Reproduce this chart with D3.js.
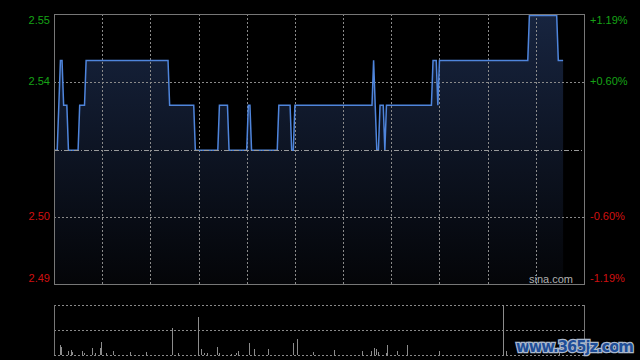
<!DOCTYPE html>
<html>
<head>
<meta charset="utf-8">
<script src="https://cdn.jsdelivr.net/npm/d3@7"></script>
<style>
  body { margin: 0; background: #000; }
  svg { display: block; }
</style>
</head>
<body>
<script>
// intraday price, [minute from open, price]
var priceMinutes = [0, 2, 4, 5, 6, 8, 9, 15, 16, 19, 20, 71, 72, 87, 88, 102, 103, 108, 109, 120, 121, 122, 123, 139, 140, 147, 148, 149, 150, 198, 199, 201, 202, 203, 205, 206, 207, 235, 236, 238, 239, 240, 295, 296, 313, 314, 317];
var pricesVal = [2.52, 2.52, 2.54, 2.54, 2.53, 2.53, 2.52, 2.52, 2.53, 2.53, 2.54, 2.54, 2.53, 2.53, 2.52, 2.52, 2.53, 2.53, 2.52, 2.52, 2.53, 2.53, 2.52, 2.52, 2.53, 2.53, 2.52, 2.52, 2.53, 2.53, 2.54, 2.52, 2.52, 2.53, 2.53, 2.52, 2.53, 2.53, 2.54, 2.54, 2.53, 2.54, 2.54, 2.55, 2.55, 2.54, 2.54];

// volume bars (thousand shares)
var volMinutes = [3, 4, 8, 10, 11, 17, 18, 23, 25, 28, 29, 32, 36, 47, 57, 73, 77, 89, 91, 93, 95, 101, 102, 110, 113, 114, 121, 124, 133, 148, 151, 161, 174, 191, 197, 199, 200, 201, 206, 207, 213, 219, 239, 279, 281, 314];
var volValues = [100, 80, 40, 50, 30, 40, 20, 70, 20, 70, 130, 20, 40, 30, 30, 270, 20, 380, 60, 20, 20, 80, 20, 10, 20, 40, 120, 60, 60, 120, 160, 30, 50, 40, 40, 70, 60, 30, 20, 100, 40, 100, 40, 500, 40, 30];

var prevClose = 2.52;
var leftLabels = ["2.55", "2.54", "", "2.50", "2.49"];
var rightLabels = ["+1.19%", "+0.60%", "", "-0.60%", "-1.19%"];
var gridMinutes = [30, 60, 90, 120, 150, 180, 210, 240, 270, 300];
var totalMinutes = 330;
var maxVol = 500;

var W = 640, H = 360;
// note: "top" is a reserved window prop, so use pLeft/pTop...
var pLeft = 54, pRight = 584, pTop = 14, pBottom = 284;
var vTop = 305, vBottom = 355;

var svg = d3.select("body").append("svg")
    .attr("width", W)
    .attr("height", H)
    .style("background", "#000");

var x = d3.scaleLinear().domain([0, totalMinutes]).range([pLeft, pRight]);
var y = d3.scaleLinear()
    .domain([prevClose * (1 - 0.0119), prevClose * (1 + 0.0119)])
    .range([pBottom + 1, pTop + 1.5]);
var yv = d3.scaleLinear().domain([0, maxVol]).range([vBottom, vTop]);

var data = priceMinutes.map(function(m, i) { return [m, pricesVal[i]]; });
var vol = volMinutes.map(function(m, i) { return [m, volValues[i]]; });

var defs = svg.append("defs");
var grad = defs.append("linearGradient")
    .attr("id", "fillGrad")
    .attr("x1", 0).attr("y1", 0).attr("x2", 0).attr("y2", 1);
grad.append("stop").attr("offset", "0%").attr("stop-color", "#17243f");
grad.append("stop").attr("offset", "100%").attr("stop-color", "#040508");

// area under price
var area = d3.area()
    .x(function(d) { return x(d[0]); })
    .y0(pBottom)
    .y1(function(d) { return y(d[1]); });

svg.append("path")
    .datum(data)
    .attr("d", area)
    .attr("fill", "url(#fillGrad)");

// grid
var quarter = (pBottom - pTop) / 4;
[1, 3].forEach(function(k) {
  svg.append("line")
    .attr("x1", pLeft).attr("x2", pRight)
    .attr("y1", Math.round(pTop + quarter * k) + 0.5).attr("y2", Math.round(pTop + quarter * k) + 0.5)
    .attr("stroke", "#8a8a8a")
    .attr("stroke-width", 1)
    .attr("stroke-dasharray", "2,2");
});

svg.selectAll("line.vgrid")
  .data(gridMinutes)
  .enter()
  .append("line")
  .attr("class", "vgrid")
  .attr("x1", function(d) { return Math.round(x(d)) + 0.5; })
  .attr("x2", function(d) { return Math.round(x(d)) + 0.5; })
  .attr("y1", pTop).attr("y2", pBottom)
  .attr("stroke", "#8a8a8a")
  .attr("stroke-dasharray", "2,2");

// price line
var line = d3.line()
    .x(function(d) { return x(d[0]); })
    .y(function(d) { return y(d[1]); });

svg.append("path")
    .datum(data)
    .attr("d", line)
    .attr("fill", "none")
    .attr("stroke", "#4f85dc")
    .attr("stroke-width", 1.5);

// previous close line (drawn over the price line)
svg.append("line")
  .attr("x1", pLeft).attr("x2", pRight)
  .attr("y1", Math.round(y(prevClose)) + 0.5).attr("y2", Math.round(y(prevClose)) + 0.5)
  .attr("stroke", "#9a9a9a")
  .attr("stroke-dasharray", "5,2,1,2");

// frame
svg.append("rect")
  .attr("x", pLeft + 0.5).attr("y", pTop + 0.5)
  .attr("width", pRight - pLeft).attr("height", pBottom - pTop)
  .attr("fill", "none")
  .attr("stroke", "#777");

// axis labels
leftLabels.forEach(function(t, i) {
  if (t === "") return;
  var yy = pTop + quarter * i;
  if (i === 0) yy += 6;
  if (i === 4) yy -= 6;
  svg.append("text")
    .attr("x", 50)
    .attr("y", yy)
    .attr("dy", "0.35em")
    .attr("text-anchor", "end")
    .attr("font-family", "Liberation Sans, Arial, sans-serif")
    .attr("font-size", "11px")
    .attr("fill", i < 2 ? "#16a316" : "#d01010")
    .text(t);
});

rightLabels.forEach(function(t, i) {
  if (t === "") return;
  var yy = pTop + quarter * i;
  if (i === 0) yy += 6;
  if (i === 4) yy -= 6;
  svg.append("text")
    .attr("x", 590)
    .attr("y", yy)
    .attr("dy", "0.35em")
    .attr("font-family", "Liberation Sans, Arial, sans-serif")
    .attr("font-size", "11px")
    .attr("fill", i < 2 ? "#16a316" : "#d01010")
    .text(t);
});

svg.append("text")
  .attr("x", 573)
  .attr("y", 283)
  .attr("text-anchor", "end")
  .attr("font-family", "Liberation Sans, Arial, sans-serif")
  .attr("font-size", "11px")
  .attr("fill", "#b0b0b0")
  .text("sina.com");

// volume panel
[vTop, (vTop + vBottom) / 2, vBottom].forEach(function(yy) {
  svg.append("line")
    .attr("x1", pLeft).attr("x2", pRight)
    .attr("y1", Math.round(yy) + 0.5).attr("y2", Math.round(yy) + 0.5)
    .attr("stroke", "#8a8a8a")
    .attr("stroke-dasharray", "2,2");
});
svg.append("line")
  .attr("x1", pLeft + 0.5).attr("x2", pLeft + 0.5)
  .attr("y1", vTop).attr("y2", vBottom)
  .attr("stroke", "#777");
svg.append("line")
  .attr("x1", pRight + 0.5).attr("x2", pRight + 0.5)
  .attr("y1", vTop).attr("y2", vBottom)
  .attr("stroke", "#777");

svg.selectAll("rect.vol")
  .data(vol)
  .enter()
  .append("rect")
  .attr("class", "vol")
  .attr("x", function(d) { return Math.round(x(d[0] + 0.5)); })
  .attr("y", function(d) { return yv(d[1]); })
  .attr("width", 1)
  .attr("height", function(d) { return vBottom - yv(d[1]); })
  .attr("fill", "#8c8c8c");

// watermark
svg.append("text")
  .attr("x", 516)
  .attr("y", 352)
  .attr("font-family", "DejaVu Sans, sans-serif")
  .attr("font-weight", "bold")
  .attr("font-size", "15px")
  .attr("fill", "#1f4e98")
  .attr("stroke", "#aab8cc")
  .attr("stroke-width", 2.5)
  .attr("paint-order", "stroke")
  .attr("textLength", 118)
  .text("www.365jz.com");
</script>
</body>
</html>
